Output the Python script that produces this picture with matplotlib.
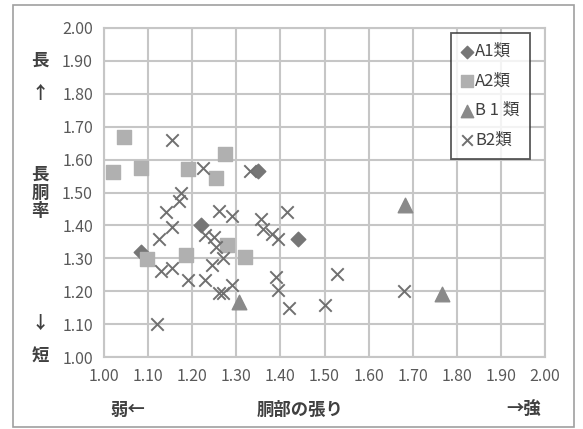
import matplotlib
matplotlib.use("Agg")
import matplotlib.pyplot as plt
from matplotlib.patches import Rectangle

plt.rcParams['font.family'] = ['Noto Sans CJK JP', 'DejaVu Sans']

# data
a1_x = [1.35, 1.44, 1.22, 1.085]
a1_y = [1.565, 1.36, 1.40, 1.32]

a2_x = [1.045, 1.02, 1.085, 1.19, 1.275, 1.255, 1.097, 1.185, 1.278, 1.32]
a2_y = [1.668, 1.562, 1.574, 1.571, 1.617, 1.544, 1.297, 1.31, 1.34, 1.304]

b1_x = [1.683, 1.766, 1.305]
b1_y = [1.462, 1.19, 1.168]

b2_x = [1.155, 1.225, 1.33, 1.175, 1.17, 1.14, 1.26, 1.29, 1.355, 1.415,
        1.155, 1.125, 1.23, 1.25, 1.255, 1.27, 1.245, 1.13, 1.155, 1.19,
        1.23, 1.26, 1.27, 1.29, 1.36, 1.38, 1.395, 1.39, 1.395, 1.42,
        1.12, 1.528, 1.50, 1.68]
b2_y = [1.66, 1.575, 1.565, 1.50, 1.475, 1.44, 1.445, 1.43, 1.42, 1.44,
        1.395, 1.36, 1.37, 1.365, 1.335, 1.30, 1.28, 1.26, 1.27, 1.235,
        1.235, 1.195, 1.195, 1.22, 1.39, 1.375, 1.36, 1.243, 1.205, 1.15,
        1.10, 1.253, 1.158, 1.20]

ticks = [1.0 + i * 0.1 for i in range(11)]
tick_labels = ["%.2f" % t for t in ticks]

fig = plt.figure(figsize=(5.83, 4.29), dpi=100)
fig.patches.append(Rectangle((13 / 583, 2 / 429), 561 / 583, 422 / 429,
                             transform=fig.transFigure, fill=False,
                             edgecolor='#a0a0a0', linewidth=1.2))
ax = fig.add_axes([104 / 583, 1 - 357 / 429, 441 / 583, 329 / 429])

ax.scatter(a1_x, a1_y, marker='D', s=55, color='#767676', label='A1類', zorder=3)
ax.scatter(a2_x, a2_y, marker='s', s=110, color='#b0b0b0', label='A2類', zorder=3)
ax.scatter(b1_x, b1_y, marker='^', s=110, color='#8a8a8a', label='B 1 類', zorder=3)
ax.scatter(b2_x, b2_y, marker='x', s=80, color='#707070', linewidths=1.4,
           label='B2類', zorder=3)

ax.set_xlim(1.0, 2.0)
ax.set_ylim(1.0, 2.0)
ax.set_xticks(ticks)
ax.set_yticks(ticks)
ax.set_xticklabels(tick_labels)
ax.set_yticklabels(tick_labels)
ax.tick_params(length=0, labelsize=11.5, labelcolor='#595959', pad=8)
ax.grid(True, color='#c6c6c6', linewidth=1.5)
ax.set_axisbelow(True)
for s in ax.spines.values():
    s.set_color('#c6c6c6')
    s.set_linewidth(1.5)

leg = ax.legend(loc='upper left', bbox_to_anchor=(451 / 583, 1 - 33 / 429),
                bbox_transform=fig.transFigure, fontsize=12, frameon=True,
                fancybox=False, edgecolor='#303030', handlelength=0.7,
                handletextpad=0.15, labelspacing=0.75, borderpad=0.6,
                borderaxespad=0, markerscale=0.85, labelcolor='#404040')
leg.get_frame().set_linewidth(1.3)

lab = dict(fontsize=12.5, fontweight='bold', color='#404040', ha='center', va='center')
fig.text(40 / 583, 1 - 61 / 429, '長', **lab)
fig.text(40 / 583, 1 - 94 / 429, '↑', **lab)
fig.text(40 / 583, 1 - 193 / 429, '長\n胴\n率', linespacing=1.0, **lab)
fig.text(40 / 583, 1 - 324 / 429, '↓', **lab)
fig.text(40 / 583, 1 - 357 / 429, '短', **lab)
fig.text(128 / 583, 1 - 410 / 429, '弱←', **lab)
fig.text(300 / 583, 1 - 410 / 429, '胴部の張り', **lab)
fig.text(524 / 583, 1 - 410 / 429, '→強', **lab)

fig.savefig('out.png', dpi=100)
